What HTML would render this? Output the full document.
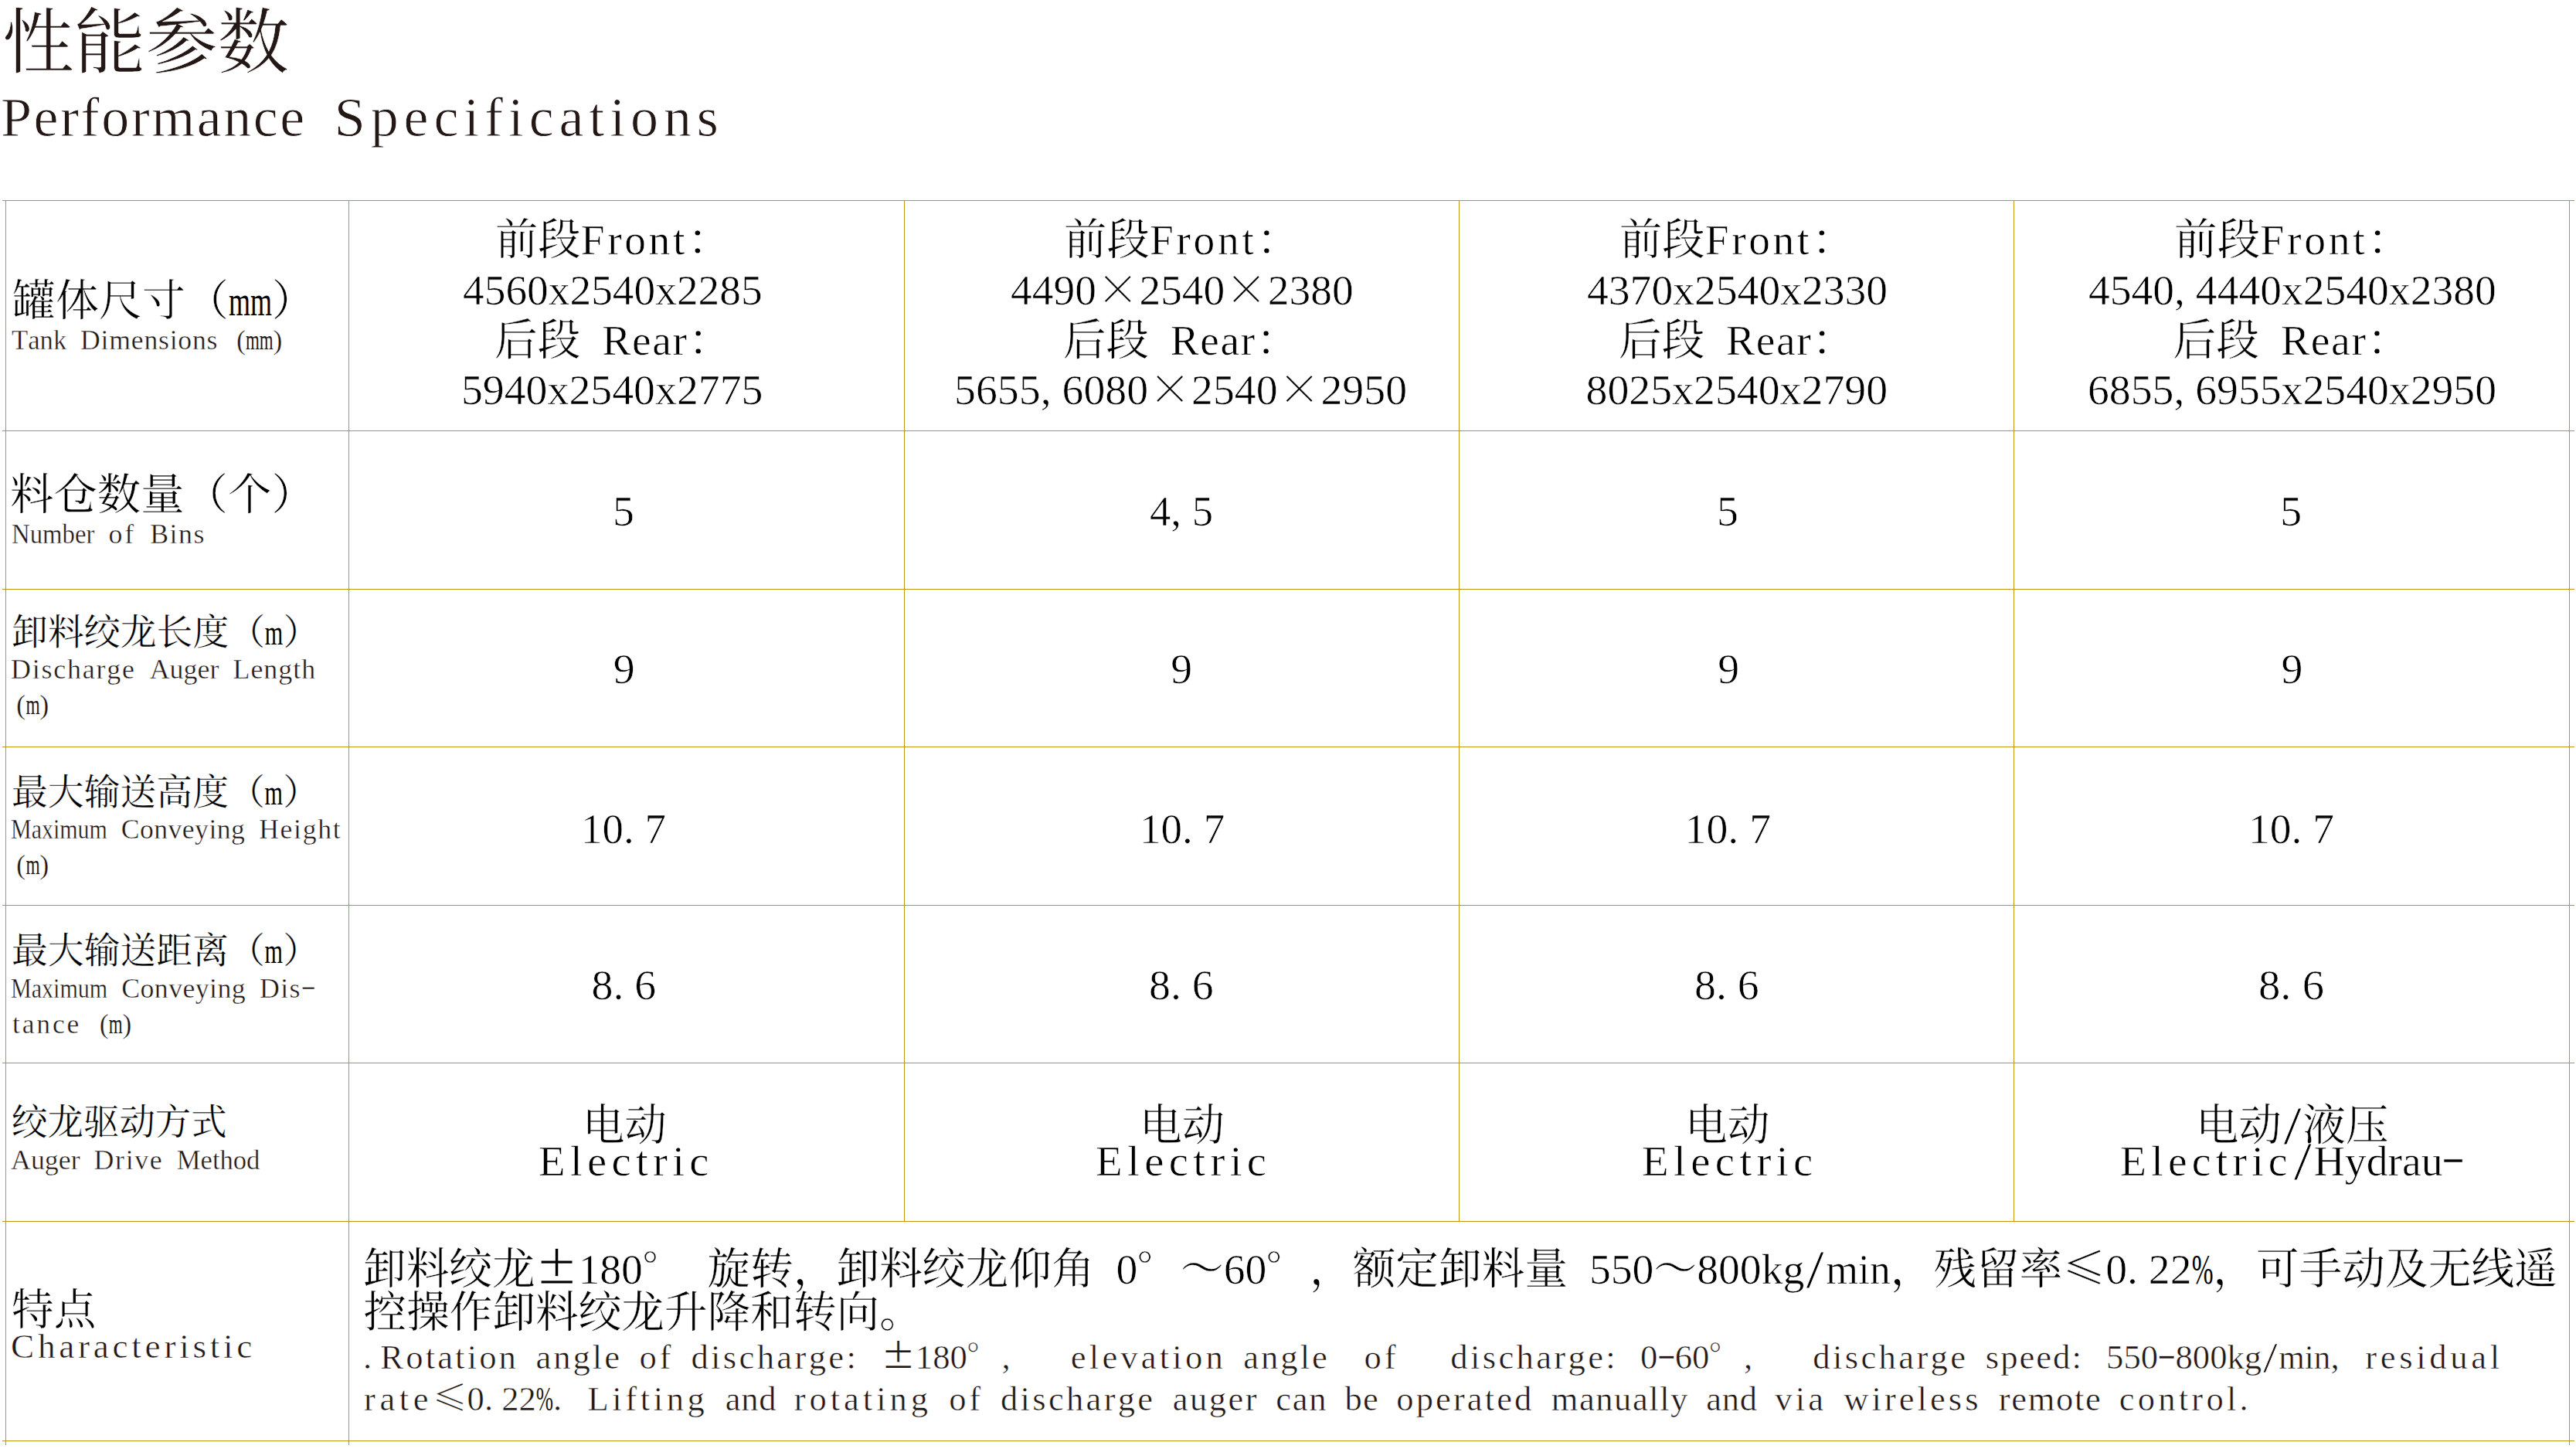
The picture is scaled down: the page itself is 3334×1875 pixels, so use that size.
<!DOCTYPE html>
<html lang="zh-CN">
<head>
<meta charset="utf-8">
<title>性能参数 Performance Specifications</title>
<style>
html,body{margin:0;padding:0;background:#fff;}
body{width:3334px;height:1875px;position:relative;overflow:hidden;color:#000;
 font-family:"Liberation Serif","Noto Serif CJK SC",serif;font-weight:400;
 font-kerning:none;font-variant-ligatures:none;}
.t{position:absolute;white-space:pre;line-height:1;margin:0;padding:0;word-spacing:0.25em;transform-origin:0 0;-webkit-text-stroke:0.006em #fff;}
.w{display:inline-block;white-space:pre;text-align:left;word-spacing:0;line-height:0;transform-origin:0 50%;}
.fw{display:inline-block;width:1em;text-align:center;letter-spacing:0;line-height:0;
 font-family:"Noto Serif CJK SC",serif;}
.dg{text-align:left;}
.t .pm{font-family:"Noto Sans CJK SC",sans-serif;-webkit-text-stroke:0;}
.th,.w{-webkit-text-stroke:0.011em #fff;}
.t .fw{-webkit-text-stroke:0.006em #fff;}
.t .ns{-webkit-text-stroke:0;}
.pr{text-align:right;}
.pc{text-align:center;}
.sl{transform:scale(1.5,1.25);transform-origin:50% 50%;}
.hy{transform:translateY(-0.1em) scaleX(1.7);transform-origin:50% 50%;}
.hl,.vl{position:absolute;background:#c39617;}
.hl{height:1px;left:3px;width:3329px;}
.vl{width:1px;top:259px;}
.br{color:#231815;}
</style>
</head>
<body>

<div class="hl" style="top:259px"></div>
<div class="hl" style="top:557px"></div>
<div class="hl" style="top:762px"></div>
<div class="hl" style="top:966px"></div>
<div class="hl" style="top:1171px"></div>
<div class="hl" style="top:1375px"></div>
<div class="hl" style="top:1580px"></div>
<div class="hl" style="top:1864px"></div>
<div class="vl" style="left:7px;height:1611px"></div>
<div class="vl" style="left:451px;height:1611px"></div>
<div class="vl" style="left:1170px;height:1322px"></div>
<div class="vl" style="left:1888px;height:1322px"></div>
<div class="vl" style="left:2606px;height:1322px"></div>
<div class="vl" style="left:3325px;height:1611px"></div>
<div id="T1" class="t br" style="left:3.00px;top:9.54px;font-size:92.50px;transform:scaleX(1.0036);">性能参数</div>
<div id="T2" class="t br th" style="left:0.80px;top:116.96px;font-size:71.70px;transform:scaleX(1.0038);"><span class="w" style="width:5.5em;letter-spacing:0.0356em">Performance</span> <span class="w" style="width:7em;letter-spacing:0.0954em">Specifications</span></div>
<div id="L1a" class="t" style="left:15.90px;top:361.94px;font-size:55.60px;transform:scaleX(1.0068);">罐体尺寸（<span class="w ns" style="width:1em;transform:scaleX(0.6428)">mm</span>）</div>
<div id="L1b" class="t br th" style="left:15.10px;top:423.26px;font-size:35.40px;transform:scaleX(1.0067);"><span class="w" style="width:2em;transform:scaleX(0.9734)">Tank</span> <span class="w" style="width:5em;letter-spacing:0.0222em">Dimensions</span> <span class="w pr" style="width:0.5em">(</span><span class="w ns" style="width:1em;transform:scaleX(0.6428)">mm</span><span class="w" style="width:0.5em">)</span></div>
<div id="L2a" class="t" style="left:13.10px;top:612.54px;font-size:55.60px;transform:scaleX(1.0146);">料仓数量（个）</div>
<div id="L2b" class="t br th" style="left:15.10px;top:674.16px;font-size:35.40px;transform:scaleX(1.0123);"><span class="w" style="width:3em;transform:scaleX(0.9155)">Number</span> <span class="w" style="width:1em;letter-spacing:0.0835em">of</span> <span class="w" style="width:2em;letter-spacing:0.0415em">Bins</span></div>
<div id="L3a" class="t" style="left:15.00px;top:795.51px;font-size:46.20px;transform:scaleX(1.0150);">卸料绞龙长度（<span class="w ns" style="width:0.5em;transform:scaleX(0.6428)">m</span>）</div>
<div id="L3b" class="t br th" style="left:14.10px;top:849.16px;font-size:35.40px;transform:scaleX(1.0150);"><span class="w" style="width:4.5em;letter-spacing:0.0496em">Discharge</span> <span class="w" style="width:2.5em;letter-spacing:0.0002em">Auger</span> <span class="w" style="width:3em;letter-spacing:0.0279em">Length</span></div>
<div id="L3c" class="t br th" style="left:14.60px;top:894.76px;font-size:35.40px;transform:scaleX(1.0270);"><span class="w pr" style="width:0.5em">(</span><span class="w ns" style="width:0.5em;transform:scaleX(0.6428)">m</span><span class="w" style="width:0.5em">)</span></div>
<div id="L4a" class="t" style="left:14.90px;top:1002.81px;font-size:46.20px;transform:scaleX(1.0142);">最大输送高度（<span class="w ns" style="width:0.5em;transform:scaleX(0.6428)">m</span>）</div>
<div id="L4b" class="t br th" style="left:13.50px;top:1055.86px;font-size:35.40px;transform:scaleX(1.0081);"><span class="w" style="width:3.5em;transform:scaleX(0.8400)">Maximum</span> <span class="w" style="width:4.5em;letter-spacing:0.0124em">Conveying</span> <span class="w" style="width:3em;letter-spacing:0.0464em">Height</span></div>
<div id="L4c" class="t br th" style="left:14.60px;top:1101.86px;font-size:35.40px;transform:scaleX(1.0270);"><span class="w pr" style="width:0.5em">(</span><span class="w ns" style="width:0.5em;transform:scaleX(0.6428)">m</span><span class="w" style="width:0.5em">)</span></div>
<div id="L5a" class="t" style="left:14.90px;top:1207.81px;font-size:46.20px;transform:scaleX(1.0142);">最大输送距离（<span class="w ns" style="width:0.5em;transform:scaleX(0.6428)">m</span>）</div>
<div id="L5b" class="t br th" style="left:13.50px;top:1262.06px;font-size:35.40px;transform:scaleX(1.0110);"><span class="w" style="width:3.5em;transform:scaleX(0.8400)">Maximum</span> <span class="w" style="width:4.5em;letter-spacing:0.0124em">Conveying</span> <span class="w" style="width:1.5em;letter-spacing:0.0369em">Dis</span><span class="w pc hy" style="width:0.5em">-</span></div>
<div id="L5c" class="t br th" style="left:15.70px;top:1307.76px;font-size:35.40px;transform:scaleX(1.0068);"><span class="w" style="width:2.5em;letter-spacing:0.0781em">tance</span> <span class="w pr" style="width:0.5em">(</span><span class="w ns" style="width:0.5em;transform:scaleX(0.6428)">m</span><span class="w" style="width:0.5em">)</span></div>
<div id="L6a" class="t" style="left:14.60px;top:1430.21px;font-size:46.20px;transform:scaleX(1.0059);">绞龙驱动方式</div>
<div id="L6b" class="t br th" style="left:13.50px;top:1484.16px;font-size:35.40px;transform:scaleX(1.0132);"><span class="w" style="width:2.5em;letter-spacing:0.0002em">Auger</span> <span class="w" style="width:2.5em;letter-spacing:0.0446em">Drive</span> <span class="w" style="width:3em;transform:scaleX(0.9644)">Method</span></div>
<div id="L7a" class="t" style="left:14.80px;top:1667.94px;font-size:55.60px;transform:scaleX(0.9830);">特点</div>
<div id="L7b" class="t br th" style="left:14.10px;top:1720.44px;font-size:44.50px;transform:scaleX(1.0178);"><span class="w" style="width:7em;letter-spacing:0.1034em">Characteristic</span></div>
<div id="C1_1_1" class="t" style="left:640.90px;top:282.57px;font-size:55.80px;transform:scaleX(0.9917);">前段<span class="w" style="width:2.5em;letter-spacing:0.0666em">Front</span>：</div>
<div id="C1_1_2" class="t th" style="left:598.50px;top:347.67px;font-size:55.80px;transform:scaleX(0.9925);">4560x2540x2285</div>
<div id="C1_1_3" class="t" style="left:639.90px;top:412.87px;font-size:55.80px;transform:scaleX(0.9985);">后段 <span class="w" style="width:2em;letter-spacing:0.0281em">Rear</span>：</div>
<div id="C1_1_4" class="t th" style="left:596.90px;top:477.27px;font-size:55.80px;">5940x2540x2775</div>
<div id="C1_2_1" class="t" style="left:1376.90px;top:282.57px;font-size:55.80px;transform:scaleX(0.9936);">前段<span class="w" style="width:2.5em;letter-spacing:0.0666em">Front</span>：</div>
<div id="C1_2_2" class="t th" style="left:1307.90px;top:347.67px;font-size:55.80px;transform:scaleX(0.9941);">4490<span class="fw">×</span>2540<span class="fw">×</span>2380</div>
<div id="C1_2_3" class="t" style="left:1376.10px;top:412.87px;font-size:55.80px;transform:scaleX(0.9943);">后段 <span class="w" style="width:2em;letter-spacing:0.0281em">Rear</span>：</div>
<div id="C1_2_4" class="t th" style="left:1235.30px;top:477.27px;font-size:55.80px;transform:scaleX(1.0004);">5655<span class="w" style="width:0.5em">,</span>6080<span class="fw">×</span>2540<span class="fw">×</span>2950</div>
<div id="C1_3_1" class="t" style="left:2096.10px;top:282.57px;font-size:55.80px;transform:scaleX(0.9917);">前段<span class="w" style="width:2.5em;letter-spacing:0.0666em">Front</span>：</div>
<div id="C1_3_2" class="t th" style="left:2053.50px;top:347.67px;font-size:55.80px;transform:scaleX(0.9964);">4370x2540x2330</div>
<div id="C1_3_3" class="t" style="left:2094.90px;top:412.87px;font-size:55.80px;transform:scaleX(0.9970);">后段 <span class="w" style="width:2em;letter-spacing:0.0281em">Rear</span>：</div>
<div id="C1_3_4" class="t th" style="left:2052.50px;top:477.27px;font-size:55.80px;">8025x2540x2790</div>
<div id="C1_4_1" class="t" style="left:2814.10px;top:282.57px;font-size:55.80px;transform:scaleX(0.9970);">前段<span class="w" style="width:2.5em;letter-spacing:0.0666em">Front</span>：</div>
<div id="C1_4_2" class="t th" style="left:2702.70px;top:347.67px;font-size:55.80px;transform:scaleX(0.9956);">4540<span class="w" style="width:0.5em">,</span>4440x2540x2380</div>
<div id="C1_4_3" class="t" style="left:2812.50px;top:412.87px;font-size:55.80px;">后段 <span class="w" style="width:2em;letter-spacing:0.0281em">Rear</span>：</div>
<div id="C1_4_4" class="t th" style="left:2701.50px;top:477.27px;font-size:55.80px;transform:scaleX(0.9981);">6855<span class="w" style="width:0.5em">,</span>6955x2540x2950</div>
<div id="V2_1" class="t th" style="left:793.05px;top:633.77px;font-size:55.80px;">5</div>
<div id="V2_2" class="t th" style="left:1488.15px;top:633.77px;font-size:55.80px;transform:scaleX(0.9800);">4<span class="w" style="width:0.5em">,</span>5</div>
<div id="V2_3" class="t th" style="left:2221.95px;top:633.77px;font-size:55.80px;">5</div>
<div id="V2_4" class="t th" style="left:2951.35px;top:633.77px;font-size:55.80px;">5</div>
<div id="V3_1" class="t th" style="left:793.75px;top:837.77px;font-size:55.80px;">9</div>
<div id="V3_2" class="t th" style="left:1515.20px;top:837.77px;font-size:55.80px;">9</div>
<div id="V3_3" class="t th" style="left:2223.30px;top:837.77px;font-size:55.80px;">9</div>
<div id="V3_4" class="t th" style="left:2952.60px;top:837.77px;font-size:55.80px;">9</div>
<div id="V4_1" class="t th" style="left:752.30px;top:1045.07px;font-size:55.80px;transform:scaleX(0.9848);">10<span class="w" style="width:0.5em">.</span>7</div>
<div id="V4_2" class="t th" style="left:1474.80px;top:1045.07px;font-size:55.80px;transform:scaleX(0.9876);">10<span class="w" style="width:0.5em">.</span>7</div>
<div id="V4_3" class="t th" style="left:2180.50px;top:1045.07px;font-size:55.80px;">10<span class="w" style="width:0.5em">.</span>7</div>
<div id="V4_4" class="t th" style="left:2910.40px;top:1045.07px;font-size:55.80px;transform:scaleX(0.9945);">10<span class="w" style="width:0.5em">.</span>7</div>
<div id="V5_1" class="t th" style="left:765.50px;top:1247.07px;font-size:55.80px;">8<span class="w" style="width:0.5em">.</span>6</div>
<div id="V5_2" class="t th" style="left:1486.65px;top:1247.07px;font-size:55.80px;transform:scaleX(1.0005);">8<span class="w" style="width:0.5em">.</span>6</div>
<div id="V5_3" class="t th" style="left:2193.35px;top:1247.07px;font-size:55.80px;transform:scaleX(1.0005);">8<span class="w" style="width:0.5em">.</span>6</div>
<div id="V5_4" class="t th" style="left:2922.85px;top:1247.07px;font-size:55.80px;transform:scaleX(1.0152);">8<span class="w" style="width:0.5em">.</span>6</div>
<div id="E1_a" class="t" style="left:753.80px;top:1429.27px;font-size:55.80px;transform:scaleX(0.9755);">电动</div>
<div id="E1_b" class="t th" style="left:697.40px;top:1474.97px;font-size:55.80px;transform:scaleX(1.0159);"><span class="w" style="width:4em;letter-spacing:0.1114em">Electric</span></div>
<div id="E2_a" class="t" style="left:1475.20px;top:1429.27px;font-size:55.80px;transform:scaleX(0.9842);">电动</div>
<div id="E2_b" class="t th" style="left:1417.80px;top:1474.97px;font-size:55.80px;transform:scaleX(1.0188);"><span class="w" style="width:4em;letter-spacing:0.1114em">Electric</span></div>
<div id="E3_a" class="t" style="left:2181.20px;top:1429.27px;font-size:55.80px;transform:scaleX(0.9823);">电动</div>
<div id="E3_b" class="t th" style="left:2125.20px;top:1474.97px;font-size:55.80px;transform:scaleX(1.0197);"><span class="w" style="width:4em;letter-spacing:0.1114em">Electric</span></div>
<div id="E4_a" class="t" style="left:2841.75px;top:1429.27px;font-size:55.80px;transform:scaleX(0.9934);">电动<span class="w pc sl" style="width:0.5em">/</span>液压</div>
<div id="E4_b" class="t th" style="left:2744.10px;top:1474.97px;font-size:55.80px;transform:scaleX(0.9980);"><span class="w" style="width:4em;letter-spacing:0.1114em">Electric</span><span class="w pc sl" style="width:0.5em">/</span><span class="w" style="width:3em;letter-spacing:0.0002em">Hydrau</span><span class="w pc hy" style="width:0.5em">-</span></div>
<div id="P1" class="t" style="left:469.50px;top:1615.00px;font-size:55.65px;transform:scaleX(1.0007);">卸料绞龙<span class="fw pm">±</span><span class="w" style="width:1.5em">180</span><span class="fw dg">°</span> 旋转，卸料绞龙仰角 <span class="w" style="width:0.5em">0</span><span class="fw dg">°</span>～<span class="w" style="width:1em">60</span><span class="fw dg">°</span>，额定卸料量 <span class="w" style="width:1.5em">550</span>～<span class="w" style="width:2.5em">800kg</span><span class="w pc sl" style="width:0.5em">/</span><span class="w" style="width:1.5em;transform:scaleX(0.9642)">min</span>，残留率<span class="fw">≤</span><span class="w" style="width:0.5em">0</span><span class="w" style="width:0.5em">.</span><span class="w" style="width:1em">22</span><span class="w ns" style="width:0.5em;transform:scaleX(0.6002)">%</span>，可手动及无线遥</div>
<div id="P2" class="t" style="left:470.50px;top:1671.40px;font-size:55.65px;">控操作卸料绞龙升降和转向。</div>
<div id="P3" class="t br th" style="left:469.60px;top:1733.75px;font-size:44.60px;transform:scaleX(1.0017);"><span class="w" style="width:0.5em">.</span><span class="w" style="width:4em;letter-spacing:0.0695em">Rotation</span> <span class="w" style="width:2.5em;letter-spacing:0.0669em">angle</span> <span class="w" style="width:1em;letter-spacing:0.0835em">of</span> <span class="w" style="width:4.5em;letter-spacing:0.0743em">discharge</span><span class="w" style="width:0.5em">:</span> <span class="fw pm">±</span>180<span class="fw dg">°</span><span class="w" style="width:0.5em">,</span>   <span class="w" style="width:4.5em;letter-spacing:0.0928em">elevation</span> <span class="w" style="width:2.5em;letter-spacing:0.0669em">angle</span>  <span class="w" style="width:1em;letter-spacing:0.0835em">of</span>   <span class="w" style="width:4.5em;letter-spacing:0.0743em">discharge</span><span class="w" style="width:0.5em">:</span> 0<span class="w pc hy" style="width:0.5em">-</span>60<span class="fw dg">°</span><span class="w" style="width:0.5em">,</span>   <span class="w" style="width:4.5em;letter-spacing:0.0743em">discharge</span> <span class="w" style="width:2.5em;letter-spacing:0.0446em">speed</span><span class="w" style="width:0.5em">:</span> 550<span class="w pc hy" style="width:0.5em">-</span>800kg<span class="w pc sl" style="width:0.5em">/</span><span class="w" style="width:1.5em;transform:scaleX(0.9642)">min</span><span class="w" style="width:0.5em">,</span> <span class="w" style="width:4em;letter-spacing:0.1043em">residual</span></div>
<div id="P4" class="t br th" style="left:470.60px;top:1788.45px;font-size:44.60px;transform:scaleX(0.9987);"><span class="w" style="width:2em;letter-spacing:0.1254em">rate</span><span class="fw">≤</span>0<span class="w" style="width:0.5em">.</span>22<span class="w ns" style="width:0.5em;transform:scaleX(0.6002)">%</span><span class="w" style="width:0.5em">.</span> <span class="w" style="width:3.5em;letter-spacing:0.1032em">Lifting</span> <span class="w" style="width:1.5em;letter-spacing:0.0187em">and</span> <span class="w" style="width:4em;letter-spacing:0.1112em">rotating</span> <span class="w" style="width:1em;letter-spacing:0.0835em">of</span> <span class="w" style="width:4.5em;letter-spacing:0.0743em">discharge</span> <span class="w" style="width:2.5em;letter-spacing:0.0559em">auger</span> <span class="w" style="width:1.5em;letter-spacing:0.0374em">can</span> <span class="w" style="width:1em;letter-spacing:0.0281em">be</span> <span class="w" style="width:4em;letter-spacing:0.0697em">operated</span> <span class="w" style="width:4em;letter-spacing:0.0349em">manually</span> <span class="w" style="width:1.5em;letter-spacing:0.0187em">and</span> <span class="w" style="width:1.5em;letter-spacing:0.0928em">via</span> <span class="w" style="width:4em;letter-spacing:0.0904em">wireless</span> <span class="w" style="width:3em;letter-spacing:0.0373em">remote</span> <span class="w" style="width:3.5em;letter-spacing:0.0954em">control</span><span class="w" style="width:0.5em">.</span></div>
</body>
</html>
